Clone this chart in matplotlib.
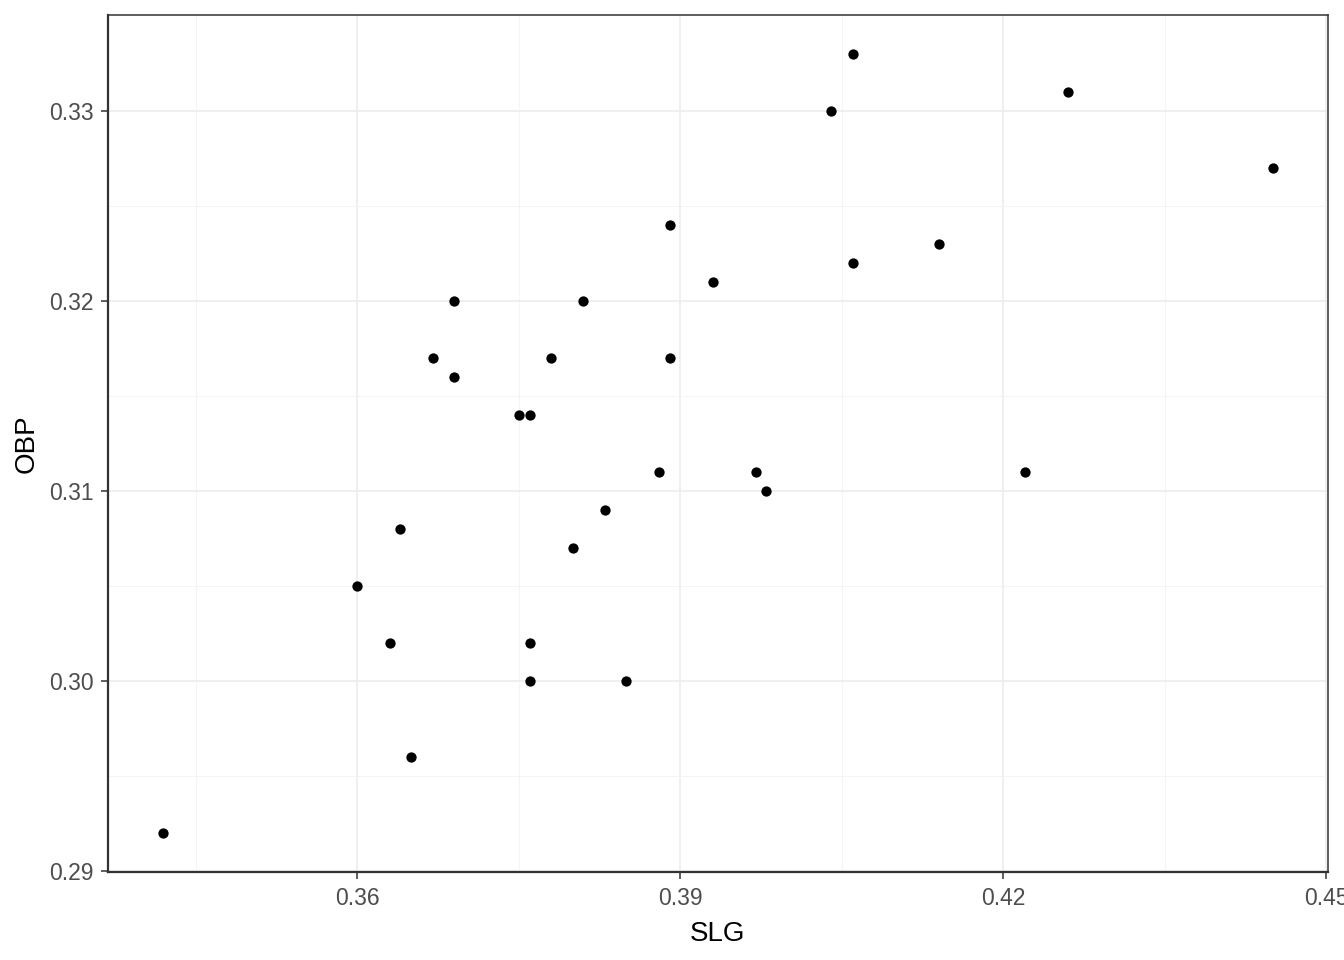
import matplotlib
matplotlib.use("Agg")
import matplotlib.pyplot as plt
from matplotlib.ticker import FixedLocator

slg = [0.342, 0.360, 0.363, 0.364, 0.365, 0.367, 0.369, 0.369, 0.375, 0.376,
       0.376, 0.376, 0.378, 0.380, 0.381, 0.383, 0.385, 0.388, 0.389, 0.389,
       0.393, 0.397, 0.398, 0.404, 0.406, 0.406, 0.414, 0.422, 0.426, 0.445]
obp = [0.292, 0.305, 0.302, 0.308, 0.296, 0.317, 0.320, 0.316, 0.314, 0.314,
       0.302, 0.300, 0.317, 0.307, 0.320, 0.309, 0.300, 0.311, 0.324, 0.317,
       0.321, 0.311, 0.310, 0.330, 0.333, 0.322, 0.323, 0.311, 0.331, 0.327]

xticks = [0.36, 0.39, 0.42, 0.45]
xtick_labels = ["0.36", "0.39", "0.42", "0.45"]
yticks = [0.29, 0.30, 0.31, 0.32, 0.33]
ytick_labels = ["0.29", "0.30", "0.31", "0.32", "0.33"]

plt.rcParams['font.family'] = ['Liberation Sans', 'DejaVu Sans']

fig = plt.figure(figsize=(13.44, 9.6), dpi=100)
ax = fig.add_axes([108/1344, 1 - 872/960, (1328-108)/1344, (872-15)/960])

xr = max(slg) - min(slg)
yr = max(obp) - min(obp)
ax.set_xlim(min(slg) - 0.05*xr, max(slg) + 0.05*xr)
ax.set_ylim(min(obp) - 0.05*yr, max(obp) + 0.05*yr)

ax.xaxis.set_major_locator(FixedLocator(xticks))
ax.set_xticklabels(xtick_labels)
ax.yaxis.set_major_locator(FixedLocator(yticks))
ax.set_yticklabels(ytick_labels)
ax.xaxis.set_minor_locator(FixedLocator([0.345, 0.375, 0.405, 0.435]))
ax.yaxis.set_minor_locator(FixedLocator([0.295, 0.305, 0.315, 0.325]))

ax.grid(which='major', color='#EBEBEB', linewidth=1.1)
ax.grid(which='minor', color='#F3F3F3', linewidth=0.6)
ax.set_axisbelow(True)

ax.scatter(slg, obp, s=55, color='black', zorder=3, linewidths=0)

for side in ['top', 'right']:
    ax.spines[side].set_color('#333333')
    ax.spines[side].set_linewidth(1.1)
for side in ['left', 'bottom']:
    ax.spines[side].set_color('#333333')
    ax.spines[side].set_linewidth(1.6)

ax.tick_params(which='major', length=5, width=1.1, color='#333333',
               labelsize=16.5, labelcolor='#4D4D4D')
ax.tick_params(axis='x', which='major', pad=6)
ax.tick_params(axis='y', which='major', pad=5)
ax.tick_params(which='minor', length=0)

ax.set_xlabel("SLG", fontsize=20, color='black', labelpad=8)
ax.set_ylabel("OBP", fontsize=20, color='black', labelpad=7)

fig.savefig("out.png", dpi=100)
